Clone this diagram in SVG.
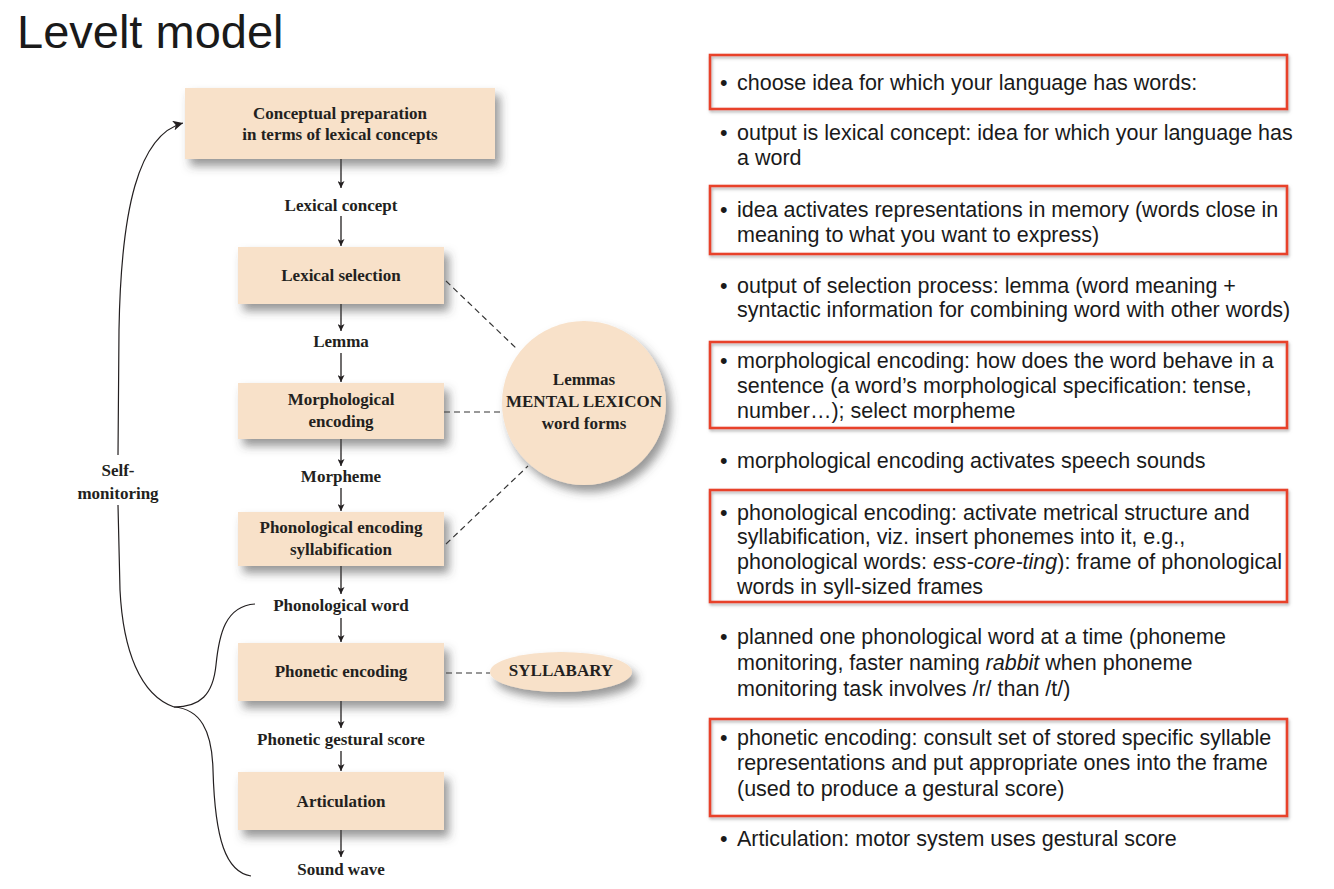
<svg xmlns="http://www.w3.org/2000/svg" width="1334" height="889" viewBox="0 0 1334 889">
<defs>
<filter id="sh" x="-20%" y="-20%" width="150%" height="160%">
<feDropShadow dx="5" dy="7" stdDeviation="5" flood-color="#444" flood-opacity="0.55"/>
</filter>
<filter id="rsh" x="-5%" y="-20%" width="110%" height="150%">
<feDropShadow dx="1" dy="2" stdDeviation="1.5" flood-color="#666" flood-opacity="0.5"/>
</filter>
<marker id="ah" viewBox="0 0 10 10" refX="10" refY="5" markerWidth="7" markerHeight="7" markerUnits="userSpaceOnUse" orient="auto">
<path d="M0,0 L10,5 L0,10 L2.5,5 Z" fill="#231f20"/>
</marker>
<marker id="ah2" viewBox="0 0 10 10" refX="10" refY="5" markerWidth="10" markerHeight="10" markerUnits="userSpaceOnUse" orient="auto">
<path d="M0,0 L10,5 L0,10 L2.5,5 Z" fill="#231f20"/>
</marker>
</defs>
<style>
.box{fill:#f8e1c9;filter:url(#sh)}
.bt{font-family:"Liberation Serif",serif;font-weight:bold;font-size:17px;fill:#231f20;text-anchor:middle}
.arr{stroke:#231f20;stroke-width:1.3;fill:none;marker-end:url(#ah)}
.dash{stroke:#333;stroke-width:1.2;stroke-dasharray:6 4;fill:none}
.curve{stroke:#231f20;stroke-width:1.2;fill:none}
.rt{font-family:"Liberation Sans",Arial,sans-serif;font-size:21.5px;fill:#1a1a1a}
.red{fill:none;stroke:#e8432c;stroke-width:2.6;filter:url(#rsh)}
.title{font-family:"Liberation Sans",Arial,sans-serif;font-size:47px;fill:#1a1a1a}
</style>
<rect width="1334" height="889" fill="#ffffff"/>
<text class="title" x="17" y="48">Levelt model</text>

<g id="connectors">
<line class="arr" x1="341" y1="159" x2="341" y2="188"/>
<line class="arr" x1="341" y1="216" x2="341" y2="246"/>
<line class="arr" x1="341" y1="304" x2="341" y2="331"/>
<line class="arr" x1="341" y1="353" x2="341" y2="382"/>
<line class="arr" x1="341" y1="439" x2="341" y2="466"/>
<line class="arr" x1="341" y1="488" x2="341" y2="511"/>
<line class="arr" x1="341" y1="566" x2="341" y2="594"/>
<line class="arr" x1="341" y1="618" x2="341" y2="642"/>
<line class="arr" x1="341" y1="701" x2="341" y2="728"/>
<line class="arr" x1="341" y1="751" x2="341" y2="771"/>
<line class="arr" x1="341" y1="830" x2="341" y2="857"/>
<line class="dash" x1="446" y1="281" x2="518" y2="350"/>
<line class="dash" x1="444" y1="412" x2="502" y2="412"/>
<line class="dash" x1="446" y1="544" x2="528" y2="466"/>
<line class="dash" x1="446" y1="673" x2="490" y2="673"/>
<path class="curve" d="M255,604 C225,606 219,635 216,665 C213,695 200,707 174,707"/>
<path class="curve" d="M174,707 C200,709 212,730 213,770 C215,840 226,872 251,876"/>
<path class="curve" d="M174,707 C140,695 123,650 120,590 L118,505"/>
<path class="curve" d="M118,455 L119,330 C121,210 138,135 183,123" marker-end="url(#ah2)"/>
</g>

<g id="n-conceptual">
<rect class="box" x="185" y="88" width="310" height="71"/>
<text class="bt" x="340" y="119">Conceptual preparation</text>
<text class="bt" x="340" y="140">in terms of lexical concepts</text>
</g>
<g id="l-lexconcept"><text class="bt" x="341" y="211">Lexical concept</text></g>
<g id="n-lexsel">
<rect class="box" x="238" y="247" width="206" height="57"/>
<text class="bt" x="341" y="281">Lexical selection</text>
</g>
<g id="l-lemma"><text class="bt" x="341" y="347">Lemma</text></g>
<g id="n-morph">
<rect class="box" x="238" y="383" width="206" height="56"/>
<text class="bt" x="341" y="405">Morphological</text>
<text class="bt" x="341" y="427">encoding</text>
</g>
<g id="l-morpheme"><text class="bt" x="341" y="482">Morpheme</text></g>
<g id="n-phon">
<rect class="box" x="238" y="512" width="206" height="54"/>
<text class="bt" x="341" y="533">Phonological encoding</text>
<text class="bt" x="341" y="555">syllabification</text>
</g>
<g id="l-phonword"><text class="bt" x="341" y="611">Phonological word</text></g>
<g id="n-phonetic">
<rect class="box" x="238" y="643" width="206" height="58"/>
<text class="bt" x="341" y="677">Phonetic encoding</text>
</g>
<g id="l-gestural"><text class="bt" x="341" y="745">Phonetic gestural score</text></g>
<g id="n-artic">
<rect class="box" x="238" y="772" width="206" height="58"/>
<text class="bt" x="341" y="807">Articulation</text>
</g>
<g id="l-sound"><text class="bt" x="341" y="875">Sound wave</text></g>
<g id="n-lexicon">
<circle class="box" cx="584" cy="403" r="82"/>
<text class="bt" x="584" y="385">Lemmas</text>
<text class="bt" x="584" y="407">MENTAL LEXICON</text>
<text class="bt" x="584" y="429">word forms</text>
</g>
<g id="n-syllabary">
<ellipse class="box" cx="561" cy="672" rx="71" ry="20"/>
<text class="bt" x="561" y="676">SYLLABARY</text>
</g>
<g id="l-self">
<text class="bt" x="118" y="476">Self-</text>
<text class="bt" x="118" y="499">monitoring</text>
</g>

<g id="notes">
<rect class="red" x="710" y="55" width="577" height="54"/>
<rect class="red" x="710" y="186" width="577" height="68"/>
<rect class="red" x="710" y="342" width="577" height="86"/>
<rect class="red" x="710" y="490" width="577" height="112"/>
<rect class="red" x="710" y="719" width="577" height="97"/>
<g class="rt">
<text x="720" y="90">•</text><text x="737" y="90">choose idea for which your language has words:</text>
<text x="720" y="140">•</text><text x="737" y="140">output is lexical concept: idea for which your language has</text>
<text x="737" y="165">a word</text>
<text x="720" y="217">•</text><text x="737" y="217">idea activates representations in memory (words close in</text>
<text x="737" y="242">meaning to what you want to express)</text>
<text x="720" y="293">•</text><text x="737" y="293">output of selection process: lemma (word meaning +</text>
<text x="737" y="317">syntactic information for combining word with other words)</text>
<text x="720" y="368">•</text><text x="737" y="368">morphological encoding: how does the word behave in a</text>
<text x="737" y="393">sentence (a word’s morphological specification: tense,</text>
<text x="737" y="418">number…); select morpheme</text>
<text x="720" y="468">•</text><text x="737" y="468">morphological encoding activates speech sounds</text>
<text x="720" y="520">•</text><text x="737" y="520">phonological encoding: activate metrical structure and</text>
<text x="737" y="544">syllabification, viz. insert phonemes into it, e.g.,</text>
<text x="737" y="569">phonological words: <tspan font-style="italic">ess-core-ting</tspan>): frame of phonological</text>
<text x="737" y="594">words in syll-sized frames</text>
<text x="720" y="644">•</text><text x="737" y="644">planned one phonological word at a time (phoneme</text>
<text x="737" y="670">monitoring, faster naming <tspan font-style="italic">rabbit</tspan> when phoneme</text>
<text x="737" y="696">monitoring task involves /r/ than /t/)</text>
<text x="720" y="745">•</text><text x="737" y="745">phonetic encoding: consult set of stored specific syllable</text>
<text x="737" y="770">representations and put appropriate ones into the frame</text>
<text x="737" y="796">(used to produce a gestural score)</text>
<text x="720" y="846">•</text><text x="737" y="846">Articulation: motor system uses gestural score</text>
</g>
</g>
</svg>
